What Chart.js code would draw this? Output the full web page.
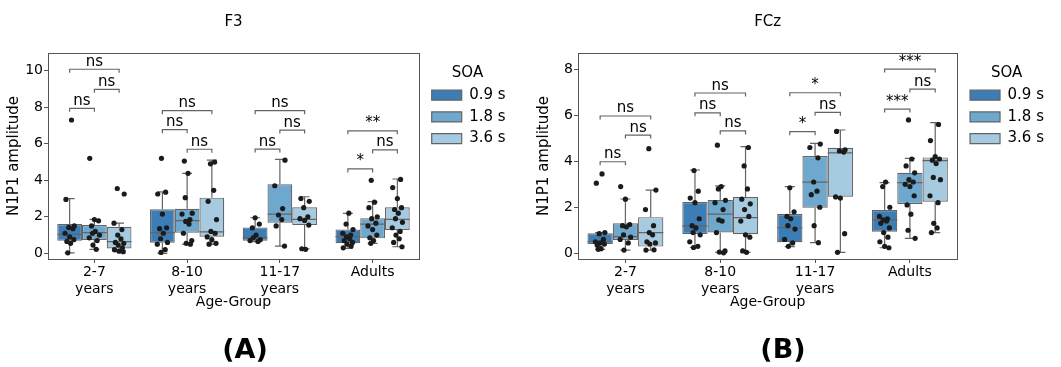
<!DOCTYPE html>
<html>
<head>
<meta charset="utf-8">
<script src="https://cdn.jsdelivr.net/npm/chart.js@4.4.1/dist/chart.umd.min.js"></script>
<style>
  body { margin: 0; background: #fff; width: 1061px; height: 367px; position: relative; overflow: hidden; font-family: 'DejaVu Sans', sans-serif; }
  canvas { position: absolute; top: 0; }
  #chart-f3 { left: 0; }
  #chart-fcz { left: 530px; }
  .panel-tag { position: absolute; top: 333px; width: 100px; text-align: center; font: bold 27px 'DejaVu Sans'; line-height: 32px; color: #000; }
</style>
</head>
<body>
<canvas id="chart-f3" width="530" height="367"></canvas>
<canvas id="chart-fcz" width="531" height="367"></canvas>
<div class="panel-tag" style="left:195px">(A)</div>
<div class="panel-tag" style="left:733px">(B)</div>
<script>
//============ Data
const GROUPS = [['2-7', 'years'], ['8-10', 'years'], ['11-17', 'years'], 'Adults'];
const SOA = ['0.9 s', '1.8 s', '3.6 s'];

// box stats per group: [whisker low, q1, median, q3, whisker high]
const F3_BOX_09 = [[0.03, 0.69, 1.04, 1.6, 3.0], [0.0, 0.58, 1.13, 2.41, 3.37], [0.64, 0.69, 0.86, 1.42, 1.95], [0.27, 0.55, 0.91, 1.31, 2.19]];
const F3_BOX_18 = [[0.22, 0.73, 1.13, 1.55, 1.86], [0.49, 1.13, 1.79, 2.44, 4.38], [0.4, 1.68, 2.15, 3.78, 5.15], [0.55, 0.82, 1.6, 1.92, 2.83]];
const F3_BOX_36 = [[0.09, 0.27, 0.64, 1.46, 1.65], [0.49, 0.91, 1.18, 3.05, 5.1], [0.24, 1.55, 1.86, 2.52, 3.1], [0.36, 1.28, 1.86, 2.52, 4.07]];

const F3_PTS_09 = [
  [7.3, 2.95, 1.5, 1.42, 1.35, 1.1, 0.9, 0.75, 0.65, 0.55, 0.03],
  [5.2, 3.35, 3.25, 2.15, 1.4, 1.35, 1.1, 0.8, 0.6, 0.5, 0.2, 0.05],
  [1.95, 1.6, 1.4, 1.0, 0.85, 0.75, 0.7, 0.65],
  [2.2, 1.6, 1.3, 1.1, 1.0, 0.9, 0.8, 0.7, 0.6, 0.5, 0.4, 0.3]
];
const F3_PTS_18 = [
  [5.2, 1.85, 1.78, 1.5, 1.2, 1.1, 1.0, 0.85, 0.7, 0.45, 0.22],
  [5.05, 4.38, 3.05, 2.2, 2.15, 1.85, 1.75, 1.6, 1.1, 0.7, 0.55, 0.5],
  [5.1, 3.7, 2.45, 2.1, 1.85, 1.5, 0.4],
  [4.0, 2.8, 2.5, 2.0, 1.9, 1.65, 1.5, 1.3, 1.0, 0.85, 0.7, 0.55]
];
const F3_PTS_36 = [
  [3.55, 3.25, 1.65, 1.3, 1.0, 0.8, 0.6, 0.55, 0.45, 0.3, 0.2, 0.12, 0.09],
  [5.0, 4.9, 3.45, 2.85, 1.85, 1.2, 1.1, 0.9, 0.75, 0.55, 0.5],
  [3.0, 2.85, 2.5, 2.0, 1.9, 1.8, 1.55, 0.25, 0.22],
  [4.05, 3.6, 3.0, 2.5, 2.4, 2.2, 1.9, 1.7, 1.4, 1.2, 1.0, 0.8, 0.6, 0.36]
];

const FCZ_BOX_09 = [[0.17, 0.40, 0.5, 0.87, 0.9], [0.25, 0.84, 1.19, 2.23, 3.62], [0.29, 0.48, 1.11, 1.71, 2.9], [0.24, 0.94, 1.45, 1.88, 3.07]];
const FCZ_BOX_18 = [[0.14, 0.58, 0.72, 1.3, 2.36], [0.04, 0.9, 1.7, 2.32, 2.93], [0.46, 1.98, 3.09, 4.23, 4.78], [0.65, 2.14, 3.07, 3.5, 4.13]];
const FCZ_BOX_36 = [[0.14, 0.29, 0.9, 1.57, 2.75], [0.04, 0.83, 1.55, 2.45, 4.64], [0.04, 2.46, 4.37, 4.59, 5.36], [0.9, 2.24, 4.03, 4.17, 5.68]];

const FCZ_PTS_09 = [
  [3.45, 3.05, 0.9, 0.85, 0.6, 0.5, 0.45, 0.4, 0.35, 0.2, 0.17],
  [3.6, 2.7, 2.4, 2.2, 1.5, 1.2, 1.1, 0.9, 0.8, 0.5, 0.3, 0.25],
  [2.85, 1.8, 1.6, 1.5, 1.2, 1.05, 0.6, 0.45, 0.3],
  [3.1, 2.9, 2.0, 1.6, 1.5, 1.45, 1.4, 1.3, 1.1, 0.9, 0.7, 0.5, 0.3, 0.24]
];
const FCZ_PTS_18 = [
  [2.9, 2.35, 1.25, 1.2, 1.15, 0.8, 0.7, 0.6, 0.45, 0.14],
  [4.7, 2.9, 2.8, 2.3, 2.2, 1.9, 1.45, 1.4, 0.9, 0.1, 0.05, 0.02],
  [4.75, 4.6, 4.15, 3.1, 2.7, 2.55, 2.0, 1.2, 0.46],
  [5.8, 4.1, 3.8, 3.5, 3.2, 3.1, 3.0, 2.9, 2.5, 2.1, 1.7, 1.0, 0.65]
];
const FCZ_PTS_36 = [
  [4.55, 2.75, 1.9, 1.2, 0.9, 0.8, 0.5, 0.45, 0.4, 0.15, 0.14],
  [4.6, 3.8, 2.8, 2.35, 2.15, 1.9, 1.6, 1.4, 0.8, 0.7, 0.1, 0.04],
  [5.3, 4.5, 4.45, 4.4, 2.45, 2.4, 0.85, 0.04],
  [5.6, 4.9, 4.2, 4.1, 4.05, 3.9, 3.3, 3.2, 2.5, 2.2, 1.3, 1.1, 0.9]
];

// significance brackets: [group, from SOA, to SOA, height, label]
const F3_SIG = [
  [0, 0, 1, 7.94, 'ns'], [0, 1, 2, 8.98, 'ns'], [0, 0, 2, 10.08, 'ns'],
  [1, 0, 1, 6.77, 'ns'], [1, 1, 2, 5.7, 'ns'], [1, 0, 2, 7.81, 'ns'],
  [2, 0, 1, 5.71, 'ns'], [2, 1, 2, 6.75, 'ns'], [2, 0, 2, 7.81, 'ns'],
  [3, 0, 1, 4.62, '*'], [3, 1, 2, 5.66, 'ns'], [3, 0, 2, 6.71, '**']
];
const FCZ_SIG = [
  [0, 0, 1, 3.98, 'ns'], [0, 1, 2, 5.14, 'ns'], [0, 0, 2, 5.97, 'ns'],
  [1, 0, 1, 6.11, 'ns'], [1, 1, 2, 5.32, 'ns'], [1, 0, 2, 6.97, 'ns'],
  [2, 0, 1, 5.29, '*'], [2, 1, 2, 6.13, 'ns'], [2, 0, 2, 6.98, '*'],
  [3, 0, 1, 6.27, '***'], [3, 1, 2, 7.14, 'ns'], [3, 0, 2, 8.01, '***']
];

const F3_YTICKS = [0, 2, 4, 6, 8, 10];
const FCZ_YTICKS = [0, 2, 4, 6, 8];

//============ Style
const BOX_COLORS = ['#3b7db4', '#6ea8cf', '#a6cbe0'];
const LINE_COLOR = '#646464';
const SPINE_COLOR = '#555555';
const TEXT_COLOR = '#000';
const DODGE = [-0.8 / 3, 0, 0.8 / 3];
// fixed strip offsets (in category units) so the dots don't sit on one line
const JITTER = [0.02, -0.04, 0.05, -0.01, 0.035, -0.05, 0.0, 0.045, -0.03, 0.01, -0.02, 0.055, -0.055, 0.03, -0.015];
Chart.defaults.font.family = "'DejaVu Sans', sans-serif";
Chart.defaults.color = TEXT_COLOR;

//============ Plugins
const boxWhiskers = {
  id: 'boxWhiskers',
  afterDatasetDraw(chart, args) {
    const ds = chart.data.datasets[args.index];
    if (!ds.stats) return;
    const ctx = chart.ctx;
    const y = chart.scales.y;
    ctx.save();
    ctx.strokeStyle = LINE_COLOR;
    ctx.lineWidth = 1.2;
    args.meta.data.forEach((bar, i) => {
      const s = ds.stats[i];
      const half = bar.width / 2;
      const cap = bar.width * 0.2;
      ctx.beginPath();
      ctx.moveTo(bar.x - half, y.getPixelForValue(s[2]));
      ctx.lineTo(bar.x + half, y.getPixelForValue(s[2]));
      ctx.moveTo(bar.x, y.getPixelForValue(s[3]));
      ctx.lineTo(bar.x, y.getPixelForValue(s[4]));
      ctx.moveTo(bar.x, y.getPixelForValue(s[1]));
      ctx.lineTo(bar.x, y.getPixelForValue(s[0]));
      ctx.moveTo(bar.x - cap, y.getPixelForValue(s[4]));
      ctx.lineTo(bar.x + cap, y.getPixelForValue(s[4]));
      ctx.moveTo(bar.x - cap, y.getPixelForValue(s[0]));
      ctx.lineTo(bar.x + cap, y.getPixelForValue(s[0]));
      ctx.stroke();
    });
    ctx.restore();
  }
};

const sigBrackets = {
  id: 'sigBrackets',
  afterDatasetsDraw(chart, args, opts) {
    const ctx = chart.ctx;
    const y = chart.scales.y;
    ctx.save();
    ctx.strokeStyle = LINE_COLOR;
    ctx.lineWidth = 1.2;
    ctx.fillStyle = TEXT_COLOR;
    ctx.font = "15px 'DejaVu Sans'";
    ctx.textAlign = 'center';
    ctx.textBaseline = 'alphabetic';
    opts.items.forEach(([g, a, b, h, label]) => {
      const x1 = chart.getDatasetMeta(a).data[g].x;
      const x2 = chart.getDatasetMeta(b).data[g].x;
      const yy = y.getPixelForValue(h);
      ctx.beginPath();
      ctx.moveTo(x1, yy + 3.5);
      ctx.lineTo(x1, yy);
      ctx.lineTo(x2, yy);
      ctx.lineTo(x2, yy + 3.5);
      ctx.stroke();
      ctx.fillText(label, (x1 + x2) / 2, yy - 3.5);
    });
    ctx.restore();
  }
};

//============ Chart builder
function makePanel(canvasId, title, boxes, points, sig, yMin, yMax, yTicks, padRight) {
  const datasets = [];
  boxes.forEach((box, k) => {
    datasets.push({
      type: 'bar',
      label: SOA[k],
      order: 2,
      stats: box,
      data: box.map((s, g) => ({ x: g, y: [s[1], s[3]] })),
      backgroundColor: BOX_COLORS[k],
      borderColor: LINE_COLOR,
      borderWidth: 1.2,
      borderSkipped: false,
      barPercentage: 1,
      categoryPercentage: 0.8
    });
  });
  points.forEach((pts, k) => {
    const data = [];
    pts.forEach((vals, g) => {
      vals.forEach((v, j) => data.push({ x: g + DODGE[k] + JITTER[(j + g * 3 + k * 5) % JITTER.length], y: v }));
    });
    datasets.push({
      type: 'scatter',
      label: 'strip ' + SOA[k],
      order: 1,
      data: data,
      pointRadius: 2.6,
      pointBorderWidth: 0,
      backgroundColor: '#1b1b1b'
    });
  });

  return new Chart(document.getElementById(canvasId), {
    type: 'bar',
    data: { datasets: datasets },
    plugins: [boxWhiskers, sigBrackets],
    options: {
      responsive: false,
      animation: false,
      events: [],
      layout: { padding: { top: 0, left: 0, right: padRight, bottom: 56 } },
      scales: {
        x: {
          type: 'linear', min: -0.5, max: 3.5, offset: false,
          afterBuildTicks: s => { s.ticks = GROUPS.map((l, i) => ({ value: i })); },
          afterFit: s => { s.height = 52; },
          ticks: { callback: v => GROUPS[v], font: { size: 14 }, color: TEXT_COLOR, padding: 1, maxRotation: 0, autoSkip: false },
          grid: { drawOnChartArea: false, tickLength: 4, color: SPINE_COLOR, offset: false },
          border: { color: SPINE_COLOR, width: 1 },
          title: { display: true, text: 'Age-Group', font: { size: 14 }, color: TEXT_COLOR, padding: { top: 0, bottom: 0 } }
        },
        x2: {
          type: 'linear', position: 'top', min: -0.5, max: 3.5,
          afterFit: s => { s.height = 0; },
          ticks: { display: false },
          grid: { drawOnChartArea: false, drawTicks: false },
          border: { color: SPINE_COLOR, width: 1 }
        },
        y: {
          type: 'linear', min: yMin, max: yMax,
          afterBuildTicks: s => { s.ticks = yTicks.map(v => ({ value: v })); },
          afterFit: s => { s.width = 48; },
          ticks: { font: { size: 14 }, color: TEXT_COLOR, padding: 1 },
          grid: { drawOnChartArea: false, tickLength: 4, color: SPINE_COLOR },
          border: { color: SPINE_COLOR, width: 1 },
          title: { display: true, text: 'N1P1 amplitude', font: { size: 15 }, color: TEXT_COLOR, padding: { top: 5, bottom: 0 } }
        },
        y2: {
          type: 'linear', position: 'right', min: yMin, max: yMax,
          afterFit: s => { s.width = 6; },
          ticks: { display: false },
          grid: { drawOnChartArea: false, drawTicks: false },
          border: { color: SPINE_COLOR, width: 1 }
        }
      },
      plugins: {
        tooltip: { enabled: false },
        title: {
          display: true, text: title, fullSize: false,
          font: { size: 15, weight: 'normal' }, color: TEXT_COLOR,
          padding: { top: 13, bottom: 22 }
        },
        legend: {
          position: 'right', align: 'start', fullSize: false,
          title: { display: true, text: 'SOA', font: { size: 15 }, color: TEXT_COLOR, padding: { top: 12.5, bottom: -2.5 } },
          labels: {
            boxWidth: 30, boxHeight: 10, padding: 6.7,
            font: { size: 15 }, color: TEXT_COLOR,
            filter: item => item.datasetIndex < 3
          }
        },
        sigBrackets: { items: sig }
      }
    }
  });
}

var chartF3 = makePanel('chart-f3', 'F3', [F3_BOX_09, F3_BOX_18, F3_BOX_36], [F3_PTS_09, F3_PTS_18, F3_PTS_36], F3_SIG, -0.31, 10.97, F3_YTICKS, 20);
var chartFCz = makePanel('chart-fcz', 'FCz', [FCZ_BOX_09, FCZ_BOX_18, FCZ_BOX_36], [FCZ_PTS_09, FCZ_PTS_18, FCZ_PTS_36], FCZ_SIG, -0.25, 8.71, FCZ_YTICKS, 11);
</script>
</body>
</html>
